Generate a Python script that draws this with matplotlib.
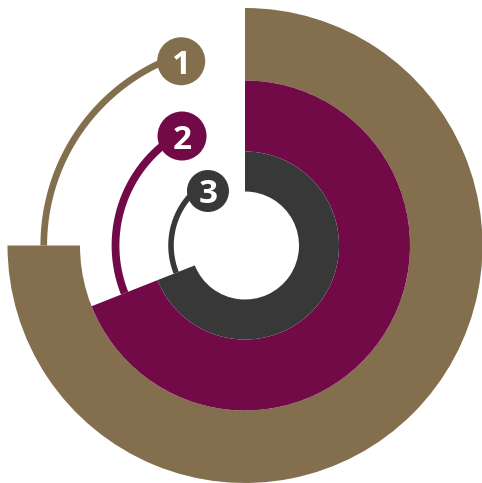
import numpy as np
import matplotlib
matplotlib.use("Agg")
import matplotlib.pyplot as plt
from matplotlib.patches import Wedge, Circle

# ---- data ----
labels = ["1", "2", "3"]
values = [75, 69, 69]          # percent of full circle, clockwise from 12 o'clock
colors = ["#836f4d", "#720a48", "#383838"]

# ---- geometry / style (pixel units) ----
ring_outer = [237.5, 165, 94]
ring_inner = [165, 94, 54]
label_angle = [19.1, 29.9, 34.2]     # degrees ccw from 12 o'clock
label_radius = [195, 126.3, 65.9]
label_circle_r = [24, 24.5, 21]
line_w = [4.8, 5.6, 4.0]

fig = plt.figure(figsize=(4.82, 4.83), dpi=100)
ax = fig.add_axes([0, 0, 1, 1])
ax.set_xlim(-245, 237)
ax.set_ylim(-237.5, 245.5)
ax.set_aspect("equal")
ax.axis("off")

for i, (lab, v, c) in enumerate(zip(labels, values, colors)):
    end = 90 - 360 * v / 100.0
    ax.add_patch(Wedge((0, 0), ring_outer[i], end, 90,
                       width=ring_outer[i] - ring_inner[i], facecolor=c,
                       edgecolor="none", zorder=2))
    # thin connector arc from ring end to label
    rm = (ring_outer[i] + ring_inner[i]) / 2
    a0 = end + 360
    a1 = 90 + label_angle[i]
    t = np.radians(np.linspace(a1, a0, 200))
    ax.plot(rm * np.cos(t), rm * np.sin(t), color=c, lw=line_w[i],
            solid_capstyle="butt", zorder=1)
    la = np.radians(90 + label_angle[i])
    cx, cy = label_radius[i] * np.cos(la), label_radius[i] * np.sin(la)
    ax.add_patch(Circle((cx, cy), label_circle_r[i], facecolor=c,
                        edgecolor="none", zorder=3))
    ax.text(cx, cy, lab, color="white", fontsize=24, fontweight="bold",
            family="Open Sans", ha="center", va="center_baseline", zorder=4)

fig.savefig("out.png", dpi=100)
